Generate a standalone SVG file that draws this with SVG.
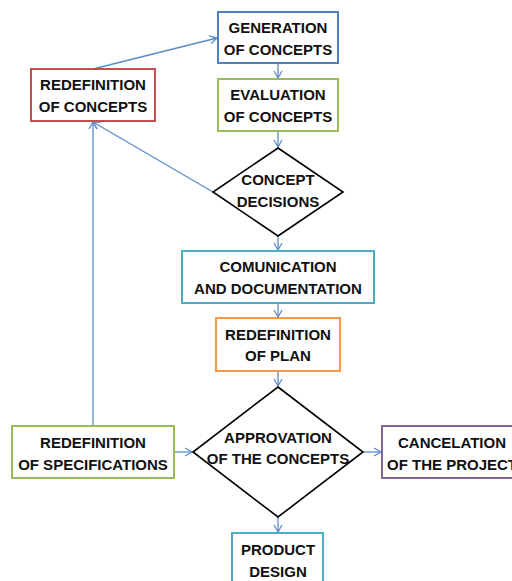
<svg xmlns="http://www.w3.org/2000/svg" width="512" height="581" viewBox="0 0 512 581">
<style>
text{font-family:"Liberation Sans",Arial,sans-serif;font-weight:bold;font-size:15px;fill:#111;text-anchor:middle}
.box{fill:#fff;stroke-width:2}
.dia{fill:#fff;stroke:#000;stroke-width:1.6}
.c{fill:none;stroke:#5b8ccc;stroke-width:1.3}
</style>
<defs>
<marker id="ah" markerUnits="userSpaceOnUse" markerWidth="10" markerHeight="10" refX="8" refY="5" orient="auto">
<path d="M1,1 L8,5 L1,9" fill="none" stroke="#5b8ccc" stroke-width="1.3"/>
</marker>
</defs>
<rect width="512" height="581" fill="#fff"/>
<g id="connectors">
<line class="c" x1="93" y1="69" x2="217" y2="38" marker-end="url(#ah)"/>
<line class="c" x1="278" y1="63" x2="278" y2="78" marker-end="url(#ah)"/>
<line class="c" x1="278" y1="131" x2="278" y2="147" marker-end="url(#ah)"/>
<line class="c" x1="213" y1="192" x2="93" y2="122" marker-end="url(#ah)"/>
<line class="c" x1="278" y1="236" x2="278" y2="250" marker-end="url(#ah)"/>
<line class="c" x1="278" y1="303" x2="278" y2="317" marker-end="url(#ah)"/>
<line class="c" x1="278" y1="371" x2="278" y2="386" marker-end="url(#ah)"/>
<line class="c" x1="93" y1="426" x2="93" y2="122" marker-end="url(#ah)"/>
<line class="c" x1="174" y1="452" x2="192" y2="452" marker-end="url(#ah)"/>
<line class="c" x1="363" y1="452" x2="381" y2="452" marker-end="url(#ah)"/>
<line class="c" x1="278" y1="517" x2="278" y2="532" marker-end="url(#ah)"/>
</g>
<g id="generation">
<rect class="box" x="218" y="12" width="120" height="51" stroke="#4f81bd"/>
<text x="278" y="33">GENERATION</text>
<text x="278" y="54.5">OF CONCEPTS</text>
</g>
<g id="redef-concepts">
<rect class="box" x="31" y="69" width="124" height="52" stroke="#c0504d"/>
<text x="93" y="90">REDEFINITION</text>
<text x="93" y="111.5">OF CONCEPTS</text>
</g>
<g id="evaluation">
<rect class="box" x="218" y="79" width="120" height="52" stroke="#9bbb59"/>
<text x="278" y="100">EVALUATION</text>
<text x="278" y="121.5">OF CONCEPTS</text>
</g>
<g id="decisions">
<polygon class="dia" points="278,148 343,192 278,236 213,192"/>
<text x="278" y="185">CONCEPT</text>
<text x="278" y="207">DECISIONS</text>
</g>
<g id="communication">
<rect class="box" x="182" y="251" width="192" height="52" stroke="#4bacc6"/>
<text x="278" y="272">COMUNICATION</text>
<text x="278" y="293.5">AND DOCUMENTATION</text>
</g>
<g id="redef-plan">
<rect class="box" x="216" y="318" width="124" height="53" stroke="#f79646"/>
<text x="278" y="339.5">REDEFINITION</text>
<text x="278" y="361">OF PLAN</text>
</g>
<g id="approvation">
<polygon class="dia" points="278,387 363,452 278,517 193,452"/>
<text x="278" y="443">APPROVATION</text>
<text x="278" y="463.5">OF THE CONCEPTS</text>
</g>
<g id="redef-spec">
<rect class="box" x="12" y="426" width="162" height="52" stroke="#9bbb59"/>
<text x="93" y="447.5">REDEFINITION</text>
<text x="93" y="469.5">OF SPECIFICATIONS</text>
</g>
<g id="cancelation">
<rect class="box" x="382" y="426" width="140" height="52" stroke="#8064a2"/>
<text x="452" y="447.5">CANCELATION</text>
<text x="452" y="469.5">OF THE PROJECT</text>
</g>
<g id="product">
<rect class="box" x="232" y="533" width="91" height="55" stroke="#4bacc6"/>
<text x="278" y="555">PRODUCT</text>
<text x="278" y="577">DESIGN</text>
</g>
</svg>
